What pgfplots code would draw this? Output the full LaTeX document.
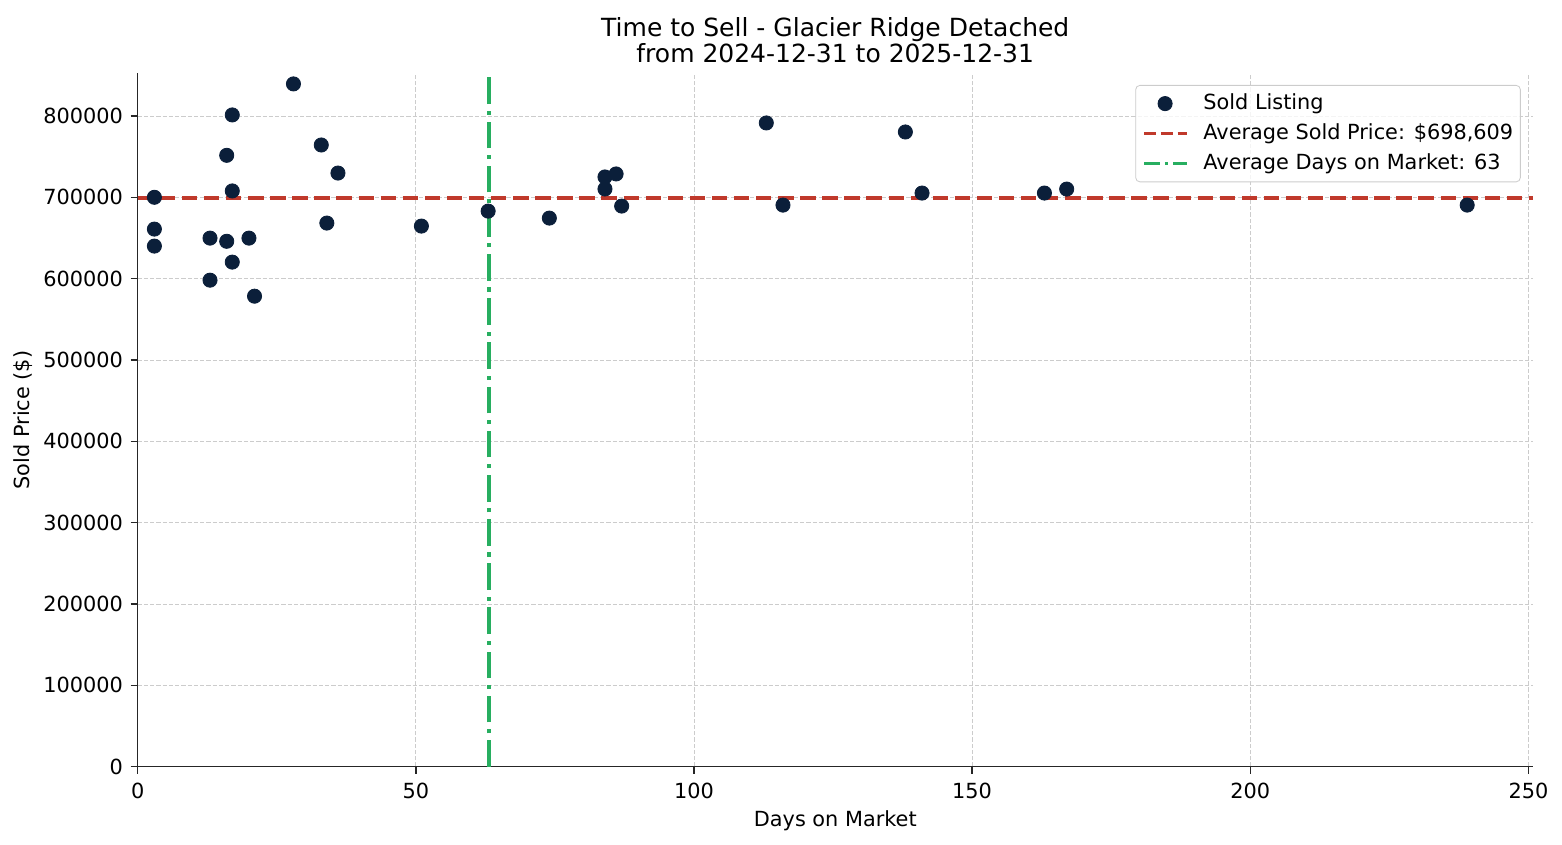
\documentclass[border=0pt]{standalone}
\usepackage{pgfplots}
\pgfplotsset{compat=1.18}
\usepackage{fontspec}
\setmainfont{DejaVu Sans}

\definecolor{dotnavy}{HTML}{0B1F3A}
\definecolor{avgred}{HTML}{C0392B}
\definecolor{avggreen}{HTML}{27AE60}
\definecolor{spine}{HTML}{262626}

\pgfplotsset{
    dotimg/.style={legend image code/.code={\draw[##1, opacity=1] plot coordinates {(10pt,0pt)};}},
    redimg/.style={legend image code/.code={\draw[avgred, opacity=1, line width=1.4pt, dash pattern=on 5.6pt off 2.4pt] (0pt,0pt) -- (20.5pt,0pt);}},
    greenimg/.style={legend image code/.code={\draw[avggreen, opacity=1, line width=1.4pt, dash pattern=on 7.5pt off 2.4pt on 1.5pt off 2.4pt] (0pt,0pt) -- (20.5pt,0pt);}},
}

\begin{document}
\begin{tikzpicture}
\useasboundingbox (-66.1pt,-37.6pt) rectangle (683.7pt,368.0pt);
\begin{axis}[
    at={(0,0)}, anchor=south west,
    scale only axis,
    width=669.7pt, height=332.8pt,
    xmin=0, xmax=250.8,
    ymin=0, ymax=852445,
    xtick={0,50,...,250},
    ytick={0,100000,...,800000},
    scaled y ticks=false,
    /pgf/number format/assume math mode=true,
    yticklabel style={/pgf/number format/fixed, /pgf/number format/1000 sep={}},
    xticklabel style={/pgf/number format/1000 sep={}},
    ticklabel style={font=\fontsize{10}{12}\selectfont, inner sep=0pt},
    yticklabel style={xshift=-3.5pt},
    xticklabel style={yshift=-4.5pt},
    axis x line*=bottom, axis y line*=left,
    axis line style={spine, line width=0.7pt},
    tick align=outside,
    major tick length=3.4pt,
    tick style={spine, line width=0.7pt},
    grid=major,
    major grid style={black!20, line width=0.4pt, dash pattern=on 2pt off 1pt},
    title={Time to Sell - Glacier Ridge Detached\\from 2024-12-31 to 2025-12-31},
    title style={align=center, font=\fontsize{12}{12.5}\selectfont,
        at={(axis description cs:0.5,1)}, anchor=south, inner sep=0pt, yshift=-1.2pt},
    xlabel={Days on Market},
    ylabel={Sold Price (\$)},
    label style={font=\fontsize{10}{12}\selectfont},
    xlabel style={at={(axis description cs:0.5,-0.0784)}, anchor=center},
    ylabel style={at={(axis description cs:-0.0823,0.5)}, anchor=center},
    legend cell align=left,
    legend style={
        at={(1,1)}, anchor=north east, xshift=-5.8pt, yshift=-5.6pt,
        draw=black!20, rounded corners=2pt, fill=white, fill opacity=0.8, text opacity=1,
        font=\fontsize{10}{12}\selectfont,
        inner xsep=3.4pt, inner ysep=4pt,
        row sep=4.9pt, column sep=7.2pt,
        nodes={inner sep=0pt, text height=7.5pt, text depth=2pt},
    },
]
\addplot[only marks, mark=*, mark size=3.4pt, draw=dotnavy, fill=dotnavy, dotimg]
coordinates {
(3,700000) (3,660900) (3,640000)
(13,649800) (13,598100)
(16,751600) (16,645900)
(17,801250) (17,707800) (17,620300)
(20,649800) (21,578400) (28,839400)
(33,764300) (34,668300) (36,729800)
(51,664600) (63,683000) (74,674400)
(84,725000) (84,710200) (86,728700) (87,689200)
(113,791400) (116,690400) (138,780300) (141,705200)
(163,705200) (167,710100) (239,690400)
};
\addlegendentry{Sold Listing}
\addplot[avgred, line width=1.9pt, dash pattern=on 7.4pt off 3.2pt, redimg]
coordinates {(0,698609) (250.8,698609)};
\addlegendentry{Average Sold Price: \$698,609}
\addplot[avggreen, line width=1.9pt, dash pattern=on 12.8pt off 3.2pt on 2pt off 3.2pt, greenimg]
coordinates {(63.2,0) (63.2,852445)};
\addlegendentry{Average Days on Market: 63}
\end{axis}
\end{tikzpicture}
\end{document}
